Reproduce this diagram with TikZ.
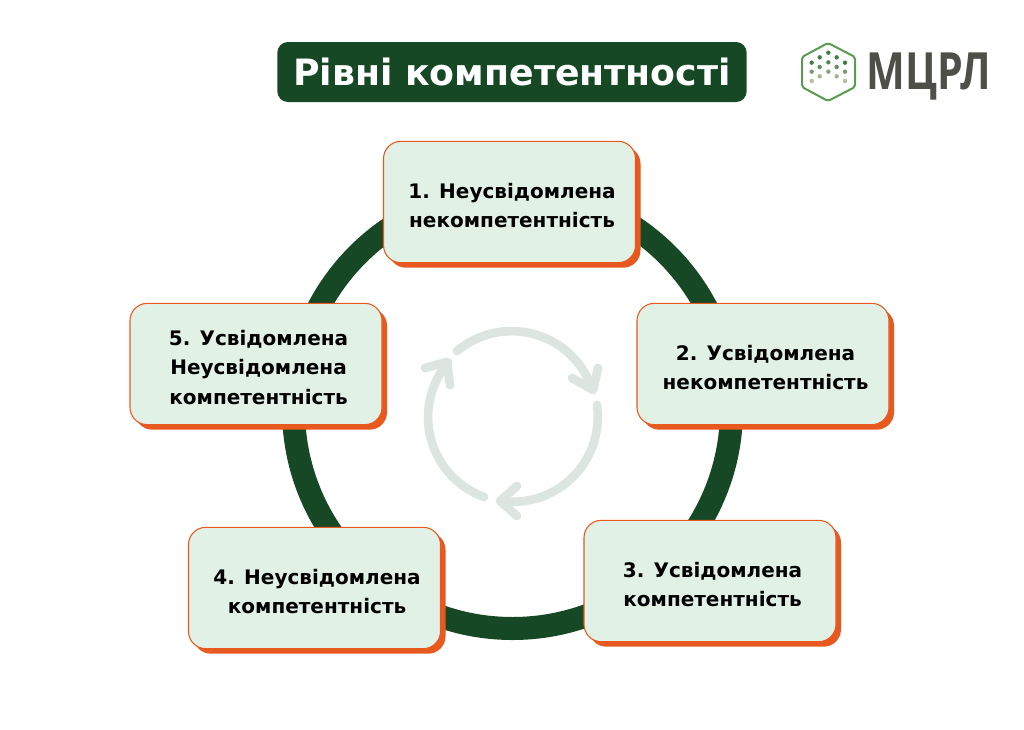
\documentclass[tikz,border=0pt]{standalone}
\usepackage{fontspec}
\setmainfont{DejaVu Sans}
\newfontfamily\logofont{Open Sans}
\definecolor{ringgreen}{HTML}{164826}
\definecolor{boxfill}{HTML}{E2F1E5}
\definecolor{boxedge}{HTML}{E8591F}
\definecolor{cyclegray}{HTML}{DCE5E0}
\definecolor{logogreen}{HTML}{5C9A52}
\definecolor{logogray}{HTML}{4F4F49}
\definecolor{dotdark}{HTML}{3F7D45}
\definecolor{dotlight}{HTML}{CFC9AE}
\tikzset{
  levelbox/.style={draw=boxedge, fill=boxfill, line width=0.8pt, rounded corners=13pt,
    minimum width=189pt, minimum height=91pt, inner sep=0pt},
  leveltext/.style={align=center, text=black, inner sep=0pt, xshift=1.9pt, yshift=-2.6pt,
    font=\bfseries\fontsize{15}{22.3}\selectfont},
  levelshadow/.style={fill=boxedge, rounded corners=13pt, minimum width=189pt, minimum height=91pt, inner sep=0pt},
  cyclearrow/.style={cyclegray, line width=6.5pt, line cap=round, line join=round},
  logodot/.style={circle, inner sep=0pt, minimum size=3.3pt}
}
\begin{document}
\begin{tikzpicture}[x=0.75pt,y=-0.75pt]
\useasboundingbox (0,0) rectangle (1024,729);
\fill[white] (0,0) rectangle (1024,729);

% Title
\node[fill=ringgreen, rounded corners=8pt, minimum width=352pt, minimum height=45pt, inner sep=0pt,
  text=white, font=\bfseries\fontsize{27.2}{30}\selectfont] (title) at (512,72) {Рівні компетентності};

% Logo
\draw[logogreen, line width=1.5pt, rounded corners=1.5pt] (828,43) -- (855,57) -- (855,87) -- (828,101) -- (802,87) -- (802,57) -- cycle;
\foreach \dotx/\doty/\shade in {145/98/100,119/112/100,170/112/100,95/128/100,145/127/85,195/128/100,
    119/141/75,170/141/75,95/155/60,145/155/50,195/155/60,119/169/30,170/169/30,95/183/15,195/183/15}{
  \node[logodot, fill=dotdark!\shade!dotlight] at ({780+\dotx/3},{20+\doty/3}) {};
}
\node[text=logogray, font=\logofont\bfseries\fontsize{38.5}{42}\selectfont, inner sep=0pt, anchor=base, xscale=0.8] (logo) at (929,89) {МЦРЛ};

% Big ring
\draw[ringgreen, line width=17.25pt] (512.5,409.5) circle (219);

% Inner cycle
\draw[cyclearrow] (457,351) arc[start angle=-130, end angle=-18, radius=85];
\draw[cyclearrow] (598,368) -- (593,390) -- (572,378);
\draw[cyclearrow] (597,405) arc[start angle=-8, end angle=98, radius=85];
\draw[cyclearrow] (517,486) -- (500,501) -- (517,516);
\draw[cyclearrow] (484,497) arc[start angle=-250, end angle=-140, radius=85];
\draw[cyclearrow] (425,368) -- (447,362) -- (450,385);

% Level boxes
\foreach \boxname/\boxx/\boxy/\boxtext in {
    one/509.5/202/{1. Неусвідомлена\\некомпетентність},
    two/763/364/{2. Усвідомлена\\некомпетентність},
    three/710/581/{3. Усвідомлена\\компетентність},
    four/314.5/588/{4. Неусвідомлена\\компетентність},
    five/256/364/{5. Усвідомлена\\Неусвідомлена\\компетентність}}{
  \node[levelshadow] (\boxname shadow) at (\boxx+5,\boxy+5) {};
  \node[levelbox] (\boxname) at (\boxx,\boxy) {};
  \node[leveltext] (\boxname text) at (\boxname.center) {\boxtext};
}
\end{tikzpicture}
\end{document}
